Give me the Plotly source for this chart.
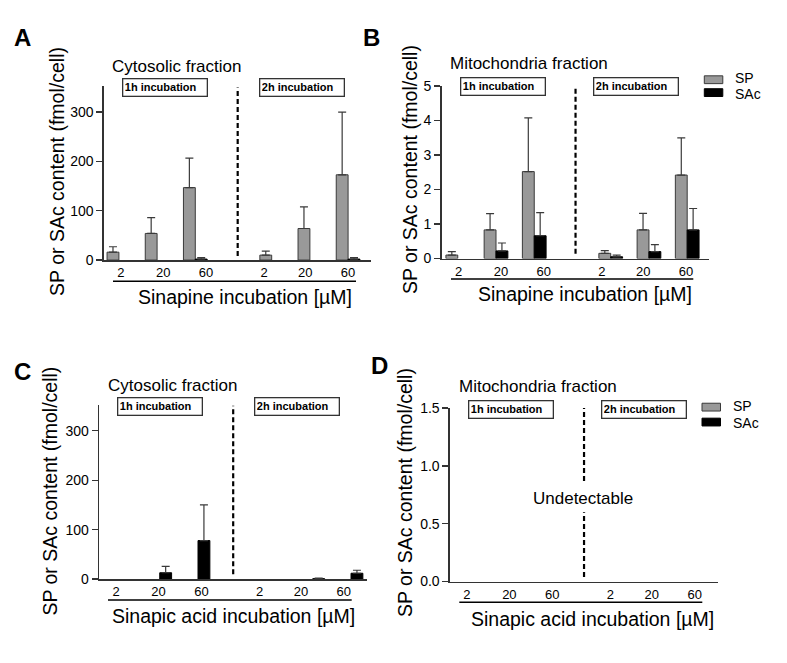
import plotly.graph_objects as go

W, H = 787, 663
FONT = "Arial, Liberation Sans, sans-serif"

# ---------------- data ----------------
conc_labels = ["2", "20", "60", "2", "20", "60"]
group_pos = [0, 1, 2, 4, 5, 6]          # 1h block: 0-2, 2h block: 4-6

# A: Sinapine incubation, cytosolic fraction (fmol/cell)
A_sp = [16, 54, 147, 10, 64, 173]
A_sp_err = [11, 32, 60, 8, 44, 127]
A_sac = [0, 0, 2, 0, 0, 2]
A_sac_err = [None, None, 3, None, None, 3]

# B: Sinapine incubation, mitochondria fraction
B_sp = [0.10, 0.83, 2.52, 0.15, 0.83, 2.42]
B_sp_err = [0.10, 0.47, 1.56, 0.08, 0.48, 1.08]
B_sac = [0, 0.22, 0.66, 0.05, 0.20, 0.83]
B_sac_err = [None, 0.23, 0.67, 0.05, 0.20, 0.62]

# C: Sinapic acid incubation, cytosolic fraction
C_sp = [0, 0, 0, 0, 0, 0]
C_sp_err = [None] * 6
C_sac = [0, 13, 78, 0, 1, 12]
C_sac_err = [None, 13, 72, None, 1, 6]

# D: Sinapic acid incubation, mitochondria fraction (undetectable)
D_sp = [0, 0, 0, 0, 0, 0]
D_sac = [0, 0, 0, 0, 0, 0]

# ---------------- layout helpers ----------------
def px(x):
    return x / W

def py(y):
    return 1 - y / H

def shown(vals):
    # zero (undetected) values are not drawn as bars
    return [v if v > 0 else None for v in vals]

SP_COLOR = "#999999"
SAC_COLOR = "#000000"
EDGE = "#3a3a3a"
BW = 0.31
XT_BASE = [0.05, 1.16, 2.28, 3.80, 4.88, 6.00]

panels = [
    dict(key="", sp=A_sp, spe=A_sp_err, sac=A_sac, sace=A_sac_err,
         xd=(104, 371), yd=(258.3, 80), yr=(0, 353), r0=-0.39, shift=0.0,
         yt=[0, 100, 200, 300], ytf=None, dash=[(8, 350)]),
    dict(key="2", sp=B_sp, spe=B_sp_err, sac=B_sac, sace=B_sac_err,
         xd=(441.7, 709), yd=(256.7, 80), yr=(0, 5), r0=-0.42, shift=-0.03,
         yt=[0, 1, 2, 3, 4, 5], ytf=None, dash=[(0.14, 5.0)]),
    dict(key="3", sp=C_sp, spe=C_sp_err, sac=C_sac, sace=C_sac_err,
         xd=(99.3, 366.7), yd=(585.3, 407.3), yr=(0, 351), r0=-0.58, shift=-0.19,
         yt=[0, 100, 200, 300], ytf=None, dash=[(10, 351)]),
    dict(key="4", sp=D_sp, spe=[None] * 6, sac=D_sac, sace=[None] * 6,
         xd=(450, 717.7), yd=(587.7, 410), yr=(0, 1.5), r0=-0.58, shift=-0.19,
         yt=[0, 0.5, 1.0, 1.5], ytf=".1f", dash=[(0.04, 0.6), (0.87, 1.5)]),
]

fig = go.Figure()
shapes = []
annotations = []
layout_axes = {}

for p in panels:
    k = p["key"]
    xa, ya = "x" + k, "y" + k
    spx = [g - BW / 2 for g in group_pos]
    sacx = [g + BW / 2 for g in group_pos]
    fig.add_trace(go.Bar(
        x=spx, y=shown(p["sp"]), width=BW, xaxis=xa, yaxis=ya, name="SP", showlegend=False,
        marker=dict(color=SP_COLOR, line=dict(color=EDGE, width=1)),
        error_y=dict(type="data", symmetric=False, array=p["spe"], arrayminus=[0] * 6,
                     color=EDGE, thickness=1.2, width=4),
    ))
    fig.add_trace(go.Bar(
        x=sacx, y=shown(p["sac"]), width=BW, xaxis=xa, yaxis=ya, name="SAc", showlegend=False,
        marker=dict(color=SAC_COLOR, line=dict(color="#000000", width=1)),
        error_y=dict(type="data", symmetric=False, array=p["sace"], arrayminus=[0] * 6,
                     color=EDGE, thickness=1.2, width=4),
    ))
    r0 = p["r0"]
    layout_axes["xaxis" + k] = dict(
        domain=[px(p["xd"][0]), px(p["xd"][1])], range=[r0, r0 + 6.99], anchor=ya,
        showline=True, linecolor="#333333", linewidth=1.6, ticks="", showgrid=False,
        zeroline=False, tickvals=[t + p["shift"] for t in XT_BASE], ticktext=conc_labels,
        tickfont=dict(family=FONT, size=13, color="#000"), fixedrange=True,
    )
    yax = dict(
        domain=[py(p["yd"][0]), py(p["yd"][1])], range=list(p["yr"]), anchor=xa,
        showline=True, linecolor="#333333", linewidth=1.6, ticks="outside", ticklen=6,
        tickwidth=1.4, tickcolor="#333333", showgrid=False, zeroline=False,
        tickvals=p["yt"], tickfont=dict(family=FONT, size=14, color="#000"),
        fixedrange=True,
    )
    if p["ytf"]:
        yax["tickformat"] = p["ytf"]
    layout_axes["yaxis" + k] = yax
    for (y0, y1) in p["dash"]:
        shapes.append(dict(type="line", xref=xa, yref=ya, x0=r0 + 3.5, x1=r0 + 3.5,
                           y0=y0, y1=y1, line=dict(color="#000", width=2.2, dash="5px,3px")))

# ---------------- text annotations ----------------
def text(x, y, s, size, xanchor="center", yanchor="middle", bold=False, angle=0):
    annotations.append(dict(
        x=px(x), y=py(y), xref="paper", yref="paper", text=("<b>%s</b>" % s) if bold else s,
        showarrow=False, xanchor=xanchor, yanchor=yanchor, textangle=angle,
        font=dict(family=FONT, size=size, color="#000")))

def box(x, y, s):
    annotations.append(dict(
        x=px(x), y=py(y), xref="paper", yref="paper", text="<b>%s</b>" % s,
        showarrow=False, xanchor="left", yanchor="top", align="left",
        width=80, height=13, borderpad=1.5, bordercolor="#333", borderwidth=1.3,
        bgcolor="white", font=dict(family=FONT, size=11, color="#000")))

# panel letters
text(22, 30, "A", 24, bold=True)
text(371, 30, "B", 24, bold=True)
text(22, 372, "C", 24, bold=True)
text(379, 366, "D", 24, bold=True)

# titles
text(110, 60, "Cytosolic fraction", 17, xanchor="left")
text(448, 57, "Mitochondria fraction", 17, xanchor="left")
text(105.7, 387, "Cytosolic fraction", 17, xanchor="left")
text(456.7, 388, "Mitochondria fraction", 17, xanchor="left")

# incubation boxes
box(122, 72, "1h incubation")
box(259, 72, "2h incubation")
box(459.7, 70.7, "1h incubation")
box(593, 70.7, "2h incubation")
box(117, 399, "1h incubation")
box(254, 399, "2h incubation")
box(468.3, 401.7, "1h incubation")
box(601, 401.7, "2h incubation")

# y titles
YT = "SP or SAc content (fmol/cell)"
text(57, 168, YT, 19.5, angle=-90)
text(410, 166, YT, 19.5, angle=-90)
text(50.5, 495, YT, 19.5, angle=-90)
text(405, 497, YT, 19.5, angle=-90)

# x titles with underline
text(245, 296, "Sinapine incubation [µM]", 19.5)
text(584.5, 293, "Sinapine incubation [µM]", 19.5)
text(233.3, 623, "Sinapic acid incubation [µM]", 19.5)
text(592, 626, "Sinapic acid incubation [µM]", 19.5)
for (x0, x1, y) in [(113, 356, 280), (451, 693.3, 277.7), (108, 351.7, 606.7), (459.3, 702.3, 609)]:
    shapes.append(dict(type="line", xref="paper", yref="paper", x0=px(x0), x1=px(x1),
                       y0=py(y), y1=py(y), line=dict(color="#000", width=1.6)))

# undetectable
text(583.3, 503, "Undetectable", 17)

# legends (B and D)
for (lx, ly_sp, ly_sac) in [(704.3, 73.5, 86.7), (702, 409, 424.3)]:
    shapes.append(dict(type="rect", xref="paper", yref="paper", x0=px(lx), x1=px(lx + 18.5),
                       y0=py(ly_sp - 4), y1=py(ly_sp + 4), fillcolor=SP_COLOR,
                       line=dict(color=EDGE, width=1)))
    shapes.append(dict(type="rect", xref="paper", yref="paper", x0=px(lx), x1=px(lx + 18.5),
                       y0=py(ly_sac - 4), y1=py(ly_sac + 4), fillcolor=SAC_COLOR,
                       line=dict(color="#000", width=1)))
    text(lx + 29, ly_sp - 1.5, "SP", 14, xanchor="left")
    text(lx + 29, ly_sac + 1, "SAc", 14, xanchor="left")

fig.update_layout(
    width=W, height=H, margin=dict(l=0, r=0, t=0, b=0),
    paper_bgcolor="white", plot_bgcolor="white", barmode="overlay",
    showlegend=False, shapes=shapes, annotations=annotations,
    font=dict(family=FONT, color="#000"),
    **layout_axes,
)

fig.write_html(
    "out.html",
    config={"displayModeBar": False, "staticPlot": True},
    post_script="document.body.style.margin='0';document.body.style.padding='0';"
                "document.documentElement.style.overflow='hidden';",
)
